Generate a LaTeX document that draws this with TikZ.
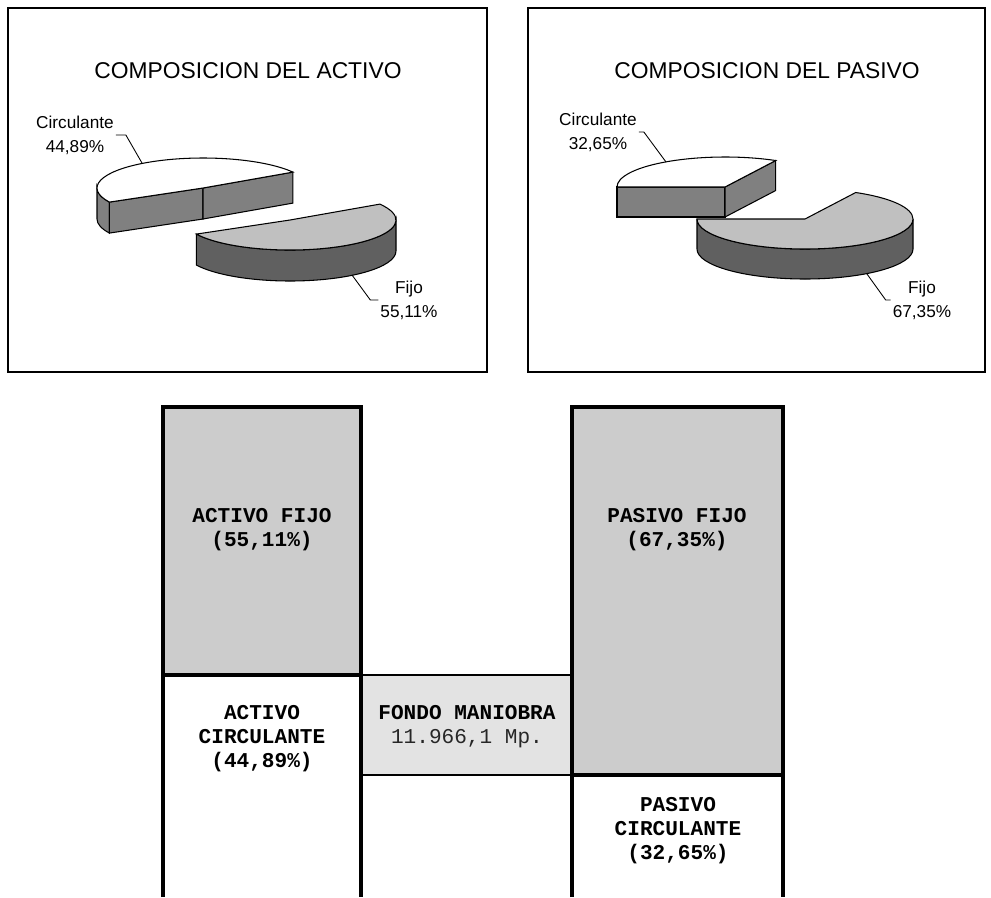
\documentclass[tikz,border=0pt]{standalone}
\usepackage{fontspec}
\setmainfont{Liberation Sans}
\setmonofont{Liberation Mono}
\usepackage{tikz}
\definecolor{circside}{HTML}{808080}
\definecolor{fijotop}{HTML}{C0C0C0}
\definecolor{fijoside}{HTML}{606060}
\definecolor{colfijo}{HTML}{CCCCCC}
\definecolor{colfondo}{HTML}{E3E3E3}
\tikzstyle{frame} = [draw=black, line width=0.9pt]
\tikzstyle{charttitle} =
[anchor=base, inner sep=0pt, font=\fontsize{13}{15}\selectfont]
\tikzstyle{slicelabel} =
[align=center, inner sep=1pt, font=\fontsize{9.8}{13.6}\selectfont]
\tikzstyle{leader} = [draw, line width=0.5pt]
\tikzstyle{circtop} = [fill=white, draw=black, line width=0.6pt]
\tikzstyle{circwall} = [fill=circside, draw=black, line width=0.6pt]
\tikzstyle{fijoface} = [fill=fijotop, draw=black, line width=0.6pt]
\tikzstyle{fijowall} = [fill=fijoside, draw=black, line width=0.6pt]
\tikzstyle{column} = [draw=black, line width=1.9pt]
\tikzstyle{thinrule} = [draw=black, line width=0.8pt]
\tikzstyle{boxtext} =
[align=center, inner sep=0pt, font=\ttfamily\bfseries\fontsize{12}{13.6}\selectfont]

\begin{document}
\begin{tikzpicture}[x=0.02cm, y=-0.02cm]
  \useasboundingbox (0,0) rectangle (991,897);
  % chart frames and titles
  \draw[frame] (8,8) rectangle (487,372);
  \draw[frame] (528,8) rectangle (985,372);
  \node[charttitle] (tact) at (248,78) {COMPOSICION DEL ACTIVO};
  \node[charttitle] (tpas) at (767,78) {COMPOSICION DEL PASIVO};
  %
  % activo pie
  \coordinate (oca) at (203,188);
  \coordinate (ocab) at (203,219);
  \coordinate (ofa) at (290,220);
  \filldraw[circwall] ([shift={(-180:106 and 30)}]oca)
    arc[start angle=-180, end angle=-208, x radius=106, y radius=30]
    -- ++(0,31)
    arc[start angle=-208, end angle=-180, x radius=106, y radius=30] -- cycle;
  \filldraw[circwall] (oca) -- ++(-208:106 and 30) -- ++(0,31) -- (ocab) -- cycle;
  \filldraw[circwall] (oca) -- ++(-32:106 and 30) -- ++(0,31) -- (ocab) -- cycle;
  \filldraw[circtop] (oca) -- ++(-32:106 and 30)
    arc[start angle=-32, end angle=-208, x radius=106, y radius=30] -- cycle;
  \filldraw[fijowall] ([shift={(-208:106 and 30)}]ofa)
    arc[start angle=-208, end angle=-360, x radius=106, y radius=30]
    -- ++(0,31)
    arc[start angle=-360, end angle=-208, x radius=106, y radius=30] -- cycle;
  \filldraw[fijoface] (ofa) -- ++(-208:106 and 30)
    arc[start angle=-208, end angle=-392, x radius=106, y radius=30] -- cycle;
  % activo labels
  \coordinate (ca) at (142,163);
  \coordinate (fa) at (352,275);
  \node[slicelabel] (lca) at (75,135) {Circulante\\44,89\%};
  \node[slicelabel] (lfa) at (409,300) {Fijo\\55,11\%};
  \path[leader] (lca.east) -- ++(10,0) -- (ca);
  \path[leader] (lfa.west) -- ++(-8,0) -- (fa);
  %
  % pasivo pie
  \coordinate (ocp) at (725,187);
  \coordinate (ocpb) at (725,217);
  \coordinate (ofp) at (805,219);
  \filldraw[circwall] (ocp) -- ++(-180:108 and 30) -- ++(0,30) -- (ocpb) -- cycle;
  \filldraw[circwall] (ocp) -- ++(-62:108 and 30) -- ++(0,30) -- (ocpb) -- cycle;
  \filldraw[circtop] (ocp) -- ++(-62:108 and 30)
    arc[start angle=-62, end angle=-180, x radius=108, y radius=30] -- cycle;
  \filldraw[fijowall] ([shift={(-180:108 and 30)}]ofp)
    arc[start angle=-180, end angle=-360, x radius=108, y radius=30]
    -- ++(0,30)
    arc[start angle=-360, end angle=-180, x radius=108, y radius=30] -- cycle;
  \filldraw[fijoface] (ofp) -- ++(-180:108 and 30)
    arc[start angle=-180, end angle=-422, x radius=108, y radius=30] -- cycle;
  % pasivo labels
  \coordinate (cp) at (666,162);
  \coordinate (fp) at (867,274);
  \node[slicelabel] (lcp) at (598,132) {Circulante\\32,65\%};
  \node[slicelabel] (lfp) at (922,300) {Fijo\\67,35\%};
  \path[leader] (lcp.east) -- ++(5,0) -- (cp);
  \path[leader] (lfp.west) -- ++(-5,0) -- (fp);
  %
  % balance columns
  \fill[colfijo] (163,407) rectangle (361,675);
  \fill[colfijo] (572,407) rectangle (783,775);
  \fill[colfondo] (361,675) rectangle (572,775);
  \path[thinrule] (361,675) -- (572,675);
  \path[thinrule] (361,775) -- (572,775);
  \path[column] (163,897) -- (163,407) -- (361,407) -- (361,897);
  \path[column] (163,675) -- (361,675);
  \path[column] (572,897) -- (572,407) -- (783,407) -- (783,897);
  \path[column] (572,775) -- (783,775);
  % balance texts
  \node[boxtext] (nafijo) at (262,530) {ACTIVO FIJO\\(55,11\%)};
  \node[boxtext] (npfijo) at (677,530) {PASIVO FIJO\\(67,35\%)};
  \node[boxtext] (nacirc) at (262,739) {ACTIVO\\CIRCULANTE\\(44,89\%)};
  \node[boxtext] (nfondo) at (467,727)
   {FONDO MANIOBRA\\{\mdseries\color{black!85}11.966,1 Mp.}};
  \node[boxtext] (npcirc) at (678,831) {PASIVO\\CIRCULANTE\\(32,65\%)};
\end{tikzpicture}
\end{document}
